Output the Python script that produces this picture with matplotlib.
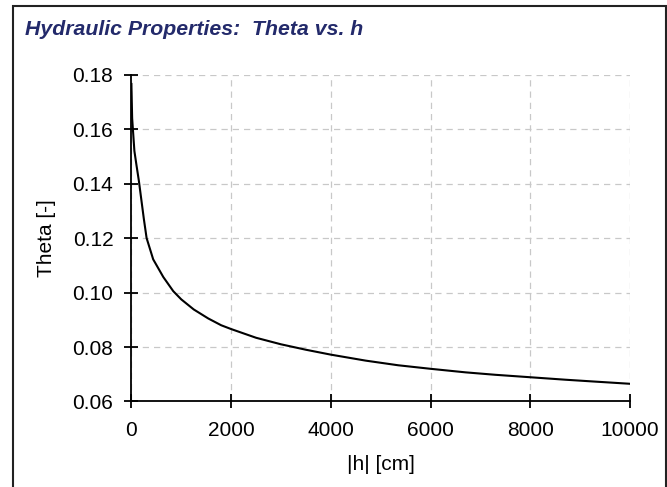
import matplotlib
matplotlib.use("Agg")
import matplotlib.pyplot as plt
from matplotlib.patches import Rectangle

# values
h_cm = [0, 15, 60, 100, 150, 200, 250, 305, 437, 640, 840, 1000, 1250, 1540, 1800,
        2000, 2500, 3000, 3500, 4000, 4700, 5350, 6000, 6700, 7300, 8000, 8700, 9300, 10000]
theta = [0.1766, 0.164, 0.152, 0.147, 0.141, 0.134, 0.127, 0.120, 0.1122, 0.1057,
         0.1005, 0.0975, 0.0938, 0.0905, 0.0880, 0.0866, 0.0834, 0.0810, 0.0790,
         0.0772, 0.0750, 0.0733, 0.0720, 0.0707, 0.0698, 0.0689, 0.0680, 0.0673, 0.0665]
x_ticks = [0, 2000, 4000, 6000, 8000, 10000]
y_ticks = [0.06, 0.08, 0.10, 0.12, 0.14, 0.16, 0.18]

plt.rcParams['font.family'] = ['Liberation Sans', 'DejaVu Sans']

fig = plt.figure(figsize=(6.67, 4.87), dpi=100)
ax = fig.add_axes([0.197, 0.1756, 0.7475, 0.671])

ax.plot(h_cm, theta, color='black', lw=1.5)

ax.set_xlim(0, 10000)
ax.set_ylim(0.06, 0.18)
ax.set_xticks(x_ticks)
ax.set_yticks(y_ticks)
ax.set_yticklabels([f"{v:.2f}" for v in y_ticks])
ax.tick_params(direction='inout', length=10, width=1.3, labelsize=15, colors='black')
ax.tick_params(axis='y', pad=8)
ax.tick_params(axis='x', pad=9)

ax.grid(True, color='#c8c8c8', linestyle=(0, (5, 4)), linewidth=0.9)
ax.spines['top'].set_visible(False)
ax.spines['right'].set_visible(False)
ax.spines['left'].set_linewidth(1.3)
ax.spines['bottom'].set_linewidth(1.3)

ax.set_xlabel("|h| [cm]", fontsize=15, labelpad=11)
ax.set_ylabel("Theta [-]", fontsize=15, labelpad=12)

fig.text(0.0375, 0.928, "Hydraulic Properties:  Theta vs. h", fontsize=15.3,
         fontweight='bold', fontstyle='italic', color='#232a6b')

# window frame
fig.add_artist(Rectangle((0.0202, -0.05), 0.978, 1.0367, transform=fig.transFigure,
                         fill=False, edgecolor='#222222', lw=1.5))

fig.savefig("out.png", dpi=100)
